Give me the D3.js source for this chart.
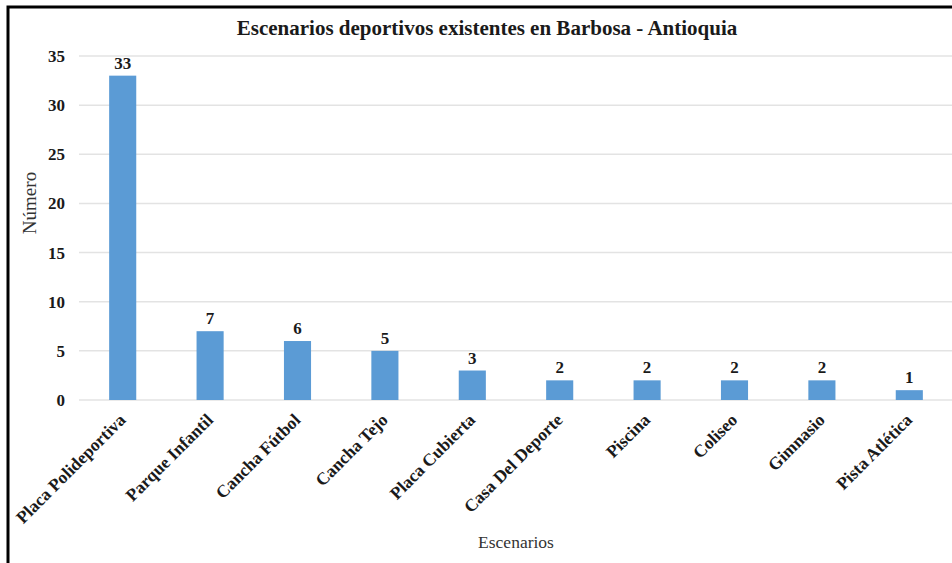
<!DOCTYPE html>
<html>
<head>
<meta charset="utf-8">
<script src="https://cdn.jsdelivr.net/npm/d3@7/dist/d3.min.js"></script>
<style>
  html, body { margin: 0; padding: 0; background: #fff; }
  svg { display: block; }
</style>
</head>
<body>
<svg id="chart" width="952" height="563"></svg>
<script>
// Sports venues in Barbosa - Antioquia
const categories = ["Placa Polideportiva", "Parque Infantil", "Cancha Fútbol", "Cancha Tejo",
  "Placa Cubierta", "Casa Del Deporte", "Piscina", "Coliseo", "Gimnasio", "Pista Atlética"];
const values = [33, 7, 6, 5, 3, 2, 2, 2, 2, 1];
const yTicks = [0, 5, 10, 15, 20, 25, 30, 35];

const svg = d3.select("#chart");
const W = 952, H = 563;
const serif = "'Liberation Serif', 'Times New Roman', serif";

svg.append("rect").attr("width", W).attr("height", H).attr("fill", "#fff");

// frame (left and top edges visible)
svg.append("path")
  .attr("d", `M8,${H} L8,7 L${W},7`)
  .attr("fill", "none").attr("stroke", "#000").attr("stroke-width", 3);

const m = { left: 79, right: 953, top: 56, bottom: 400 };

const x = d3.scaleBand().domain(categories).range([m.left, m.right]).paddingInner(0.69).paddingOuter(0.345);
const y = d3.scaleLinear().domain([0, 35]).range([m.bottom, m.top]);

// gridlines
svg.append("g").selectAll("line").data(yTicks).join("line")
  .attr("x1", m.left).attr("x2", W)
  .attr("y1", d => y(d)).attr("y2", d => y(d))
  .attr("stroke", "#e3e3e3").attr("stroke-width", 1.5);

// y axis labels
const yAxis = svg.append("g").attr("transform", `translate(${m.left},0)`)
  .call(d3.axisLeft(y).tickValues(yTicks).tickSize(0).tickPadding(14));
yAxis.select(".domain").remove();
yAxis.selectAll("text")
  .attr("font-family", serif).attr("font-size", 17).attr("font-weight", "bold").attr("fill", "#1a1a1a");

// bars
svg.append("g").selectAll("rect").data(values).join("rect")
  .attr("x", (d, i) => x(categories[i]))
  .attr("width", x.bandwidth())
  .attr("y", d => y(d))
  .attr("height", d => y(0) - y(d))
  .attr("fill", "#5b9bd5");

// value labels
svg.append("g").selectAll("text").data(values).join("text")
  .attr("x", (d, i) => x(categories[i]) + x.bandwidth() / 2)
  .attr("y", d => y(d) - 7)
  .attr("text-anchor", "middle")
  .attr("font-family", serif).attr("font-size", 17).attr("font-weight", "bold").attr("fill", "#1a1a1a")
  .text(d => d);

// category labels, rotated
const xAxis = svg.append("g").attr("transform", `translate(0,${m.bottom})`)
  .call(d3.axisBottom(x).tickSize(0).tickPadding(0));
xAxis.select(".domain").remove();
xAxis.selectAll("text")
  .attr("font-family", serif).attr("font-size", 17.5).attr("font-weight", "bold").attr("fill", "#1a1a1a")
  .attr("text-anchor", "end")
  .attr("x", 0).attr("y", 0).attr("dy", 0)
  .attr("transform", "translate(4,21) rotate(-45)");

// title
svg.append("text")
  .attr("x", 487).attr("y", 35)
  .attr("text-anchor", "middle")
  .attr("font-family", serif).attr("font-size", 21).attr("font-weight", "bold").attr("fill", "#1a1a1a")
  .text("Escenarios deportivos existentes en Barbosa - Antioquia");

// axis titles
svg.append("text")
  .attr("transform", "translate(36,203) rotate(-90)")
  .attr("text-anchor", "middle")
  .attr("font-family", serif).attr("font-size", 19).attr("fill", "#333")
  .text("Número");

svg.append("text")
  .attr("x", 516).attr("y", 548)
  .attr("text-anchor", "middle")
  .attr("font-family", serif).attr("font-size", 17.5).attr("fill", "#333")
  .text("Escenarios");
</script>
</body>
</html>
